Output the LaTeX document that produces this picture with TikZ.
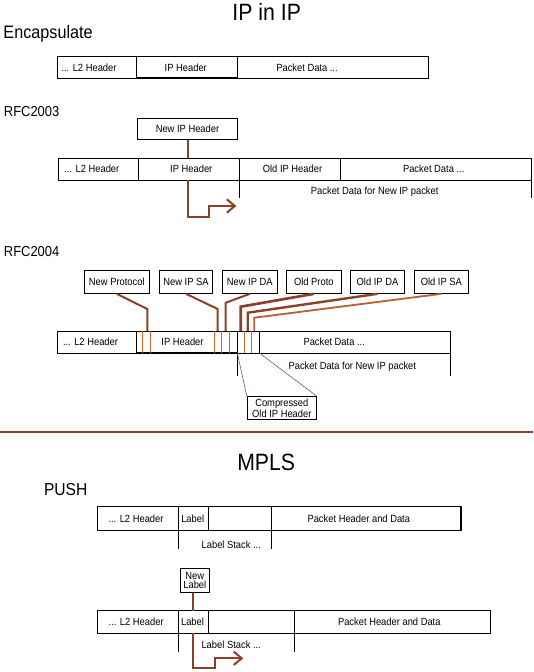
\documentclass[tikz,border=0pt]{standalone}
\usepackage{fontspec}
\setmainfont{Liberation Sans}[FakeStretch=0.9]
\usetikzlibrary{arrows.meta}
\definecolor{wire}{RGB}{139,64,42}
\definecolor{wirelt}{RGB}{184,98,56}
\definecolor{field}{RGB}{204,102,40}
\newcommand\cellsize{\fontsize{7.8}{6.8}\selectfont}
\tikzset{
 txt/.style={inner sep=0pt,text height=5.6pt,text depth=0pt,font=\cellsize},
 tag/.style={draw,fill=white,inner sep=0pt,text height=5.6pt,text depth=0pt,font=\cellsize,minimum height=17pt},
 tagtwo/.style={draw,fill=white,inner sep=1pt,align=center,font=\cellsize},
 ttl/.style={inner sep=0pt,anchor=base,font=\fontsize{17.7}{20}\selectfont},
 sect/.style={inner sep=0pt,anchor=base west},
 wirel/.style={wire,line width=1.5pt},
 fld/.style={field,line width=0.7pt},
}
\begin{document}
\begin{tikzpicture}[x=0.75pt,y=-0.75pt,line width=0.75pt,>={Straight Barb[length=6pt,width=10pt]}]
 \useasboundingbox (0,0) rectangle (533,672);
 % IP in IP
 \node[ttl] (tipip) at (266.7,20.3) {IP in IP};
 \node[sect,font=\fontsize{13.5}{15}\selectfont] (tenc) at (3,38.5) {Encapsulate};
 \draw (57.1,56.7) rectangle (428.6,78.3) (136.4,56.7)--(136.4,78.3) (237.4,56.7)--(237.4,78.3);
 \draw[line width=1.3pt] (136.4,78.3)--(237.4,78.3);
 \node[txt] (encl2) at (89,67.5) {... L2 Header};
 \node[txt] (encip) at (185.8,67.5) {IP Header};
 \node[txt] (encdata) at (307,67.5) {Packet Data ...};
 % RFC2003
 \node[sect,font=\fontsize{10.8}{12}\selectfont] (trfca) at (3.4,116.7) {RFC2003};
 \draw (58.5,158.3) rectangle (531.6,180) (138.4,158.3)--(138.4,180) (239.8,158.3)--(239.8,180) (340,158.3)--(340,180);
 \draw[line width=1.2pt] (138.4,158.3)--(340,158.3);
 \draw (239.8,180)--(239.8,198.3) (531.6,180)--(531.6,198.3);
 \node[txt] (al2) at (91.8,169.2) {... L2 Header};
 \node[txt] (aip) at (191.3,169.2) {IP Header};
 \node[txt] (aold) at (292.5,169.2) {Old IP Header};
 \node[txt] (adata) at (433.7,169.2) {Packet Data ...};
 \node[txt] (anew) at (374.7,190.7) {Packet Data for New IP packet};
 \node[tag,minimum width=75.2pt,minimum height=16pt] (newip) at (187.5,128.9) {New IP Header};
 \coordinate (iptop) at (187.5,158.3);
 \coordinate (ipbot) at (187.5,180);
 \coordinate (oldip) at (236.4,206);
 \draw[wirel] (newip) -- (iptop);
 \draw[wirel,->] (ipbot) -- (187.5,216.7) -| (209.2,206) -- (oldip);
 % RFC2004
 \node[sect,font=\fontsize{10.8}{12}\selectfont] (trfcb) at (3.4,256.7) {RFC2004};
 \draw (57.8,331) rectangle (450,353) (136.7,331)--(136.7,353) (237.3,331)--(237.3,353) (259.3,331)--(259.3,353);
 \draw[line width=1.2pt] (136.7,353)--(237.3,353);
 \draw (237.3,353)--(237.3,375.7) (450,353)--(450,375.7);
 \foreach \fx in {142.3,150.3,214.3,221.7,229.7,244.3,251.7}
 \draw[fld] (\fx,331)--(\fx,353);
 \node[txt] (bl2) at (90.5,342) {... L2 Header};
 \node[txt] (bip) at (182.5,342) {IP Header};
 \node[txt] (bdata) at (334.2,342) {Packet Data ...};
 \node[txt] (bnew) at (352.3,366) {Packet Data for New IP packet};
 \node[tag,minimum width=48.75pt] (nproto) at (116.8,282) {New Protocol};
 \node[tag,minimum width=40pt] (nsa) at (186,282) {New IP SA};
 \node[tag,minimum width=41.25pt] (nda) at (249.8,282) {New IP DA};
 \node[tag,minimum width=41.25pt] (oproto) at (313.8,282) {Old Proto};
 \node[tag,minimum width=40.2pt] (oda) at (377.5,282) {Old IP DA};
 \node[tag,minimum width=40.5pt] (osa) at (441.3,282) {Old IP SA};
 \coordinate (fproto) at (147.3,331);
 \coordinate (fsa) at (217.7,331);
 \coordinate (fda) at (225.7,331);
 \coordinate (foproto) at (240.7,331);
 \coordinate (foda) at (247.7,331);
 \coordinate (fosa) at (254.3,331);
 \draw[wirel] (nproto.south) -- (147.3,309) -- (fproto);
 \draw[wirel] (nsa.south) -- (217.7,309) -- (fsa);
 \draw[wirel] (nda.south) -- (225.7,302.7) -- (fda);
 \draw[wire,line width=2pt] (oproto.south) -- (240.7,306.7) -- (foproto);
 \draw[wire,line width=1.8pt] (oda.south) -- (247.7,312.7) -- (foda);
 \draw[wirelt,line width=1.4pt] (osa.south) -- (254.3,317.7) -- (fosa);
 \node[tagtwo,minimum width=51.75pt,minimum height=17pt] (cmpr) at (281.8,408) {Compressed\\Old IP Header};
 \coordinate (cmpl) at (237.3,353);
 \coordinate (cmpr2) at (259.3,353);
 \draw[wire,line width=0.4pt] (cmpl) -- (cmpr.north west) (cmpr2) -- (cmpr.north east);
 % MPLS
 \draw[wire,line width=1.5pt] (0,431.7) -- (533,431.7);
 \node[ttl] (tmpls) at (266.2,470.7) {MPLS};
 \node[sect,font=\fontsize{13}{15}\selectfont] (tpush) at (43.5,495) {PUSH};
 \draw (97.6,506.7) rectangle (461,530) (178.6,506.7)--(178.6,530) (208.5,506.7)--(208.5,530) (271.4,506.7)--(271.4,530);
 \draw[line width=1.5pt] (461,506.7)--(461,530);
 \draw (178.6,530)--(178.6,549.3) (271.4,530)--(271.4,549.3);
 \node[txt] (cl2) at (136,518.3) {... L2 Header};
 \node[txt] (clbl) at (192.7,518.3) {Label};
 \node[txt] (cdata) at (358.8,518.3) {Packet Header and Data};
 \node[txt] (cstack) at (231.3,545) {Label Stack ...};
 \draw (97.3,610.7) rectangle (490.3,633) (178.7,610.7)--(178.7,633) (208.3,610.7)--(208.3,633) (294.3,610.7)--(294.3,633);
 \draw (178.7,633)--(178.7,652.3) (294.3,633)--(294.3,652.3);
 \node[txt] (dl2) at (136.2,621.3) {... L2 Header};
 \node[txt] (dlbl) at (192.5,621.3) {Label};
 \node[txt] (ddata) at (389.3,621.3) {Packet Header and Data};
 \node[txt] (dstack) at (231.2,644.3) {Label Stack ...};
 \node[tagtwo,minimum width=21.75pt,minimum height=18pt,inner sep=0.5pt] (nlabel) at (194.8,580.3) {New\\Label};
 \coordinate (lbltop) at (192.7,610.7);
 \coordinate (lblbot) at (192.7,633);
 \coordinate (stack) at (243.3,658.3);
 \draw[wirel] (nlabel.south -| lbltop) -- (lbltop);
 \draw[wirel,->] (lblbot) -- (192.7,668.3) -| (215,658.3) -- (stack);
\end{tikzpicture}
\end{document}
